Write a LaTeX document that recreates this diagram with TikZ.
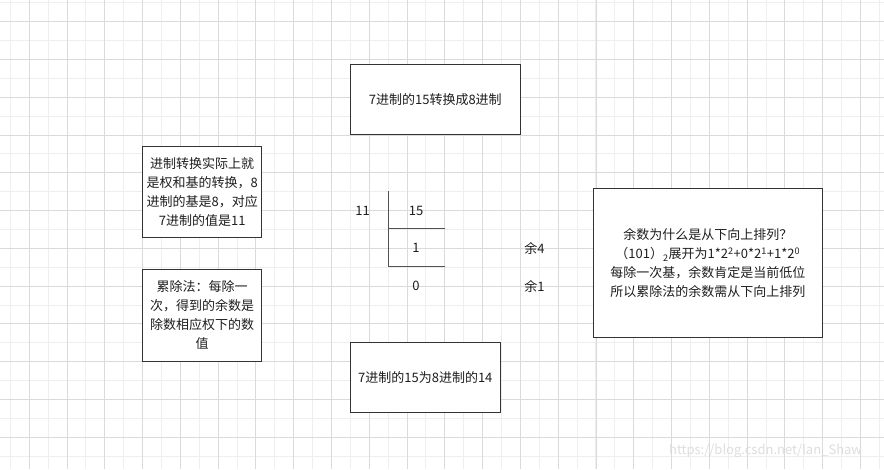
\documentclass[tikz,border=0pt]{standalone}
\usepackage{fontspec}
\setmainfont{Noto Sans CJK SC}
\definecolor{gridminor}{RGB}{238, 238, 238}
\definecolor{gridmajor}{RGB}{218, 218, 218}
\definecolor{boxline}{RGB}{51, 51, 51}
\definecolor{inkdark}{RGB}{30, 30, 30}
\definecolor{markgray}{RGB}{222, 222, 222}

\begin{document}
\begin{tikzpicture}[x=1pt, y=-1pt, every node/.style={font=\fontsize{13}{19}\selectfont, text=inkdark, inner sep=0pt},
    notebox/.style={draw=boxline, line width=1pt, align=center},
    minorline/.style={draw=gridminor, line width=1pt},
    majorline/.style={draw=gridmajor, line width=1pt},
    divline/.style={draw=boxline!85, line width=1pt}]
    \useasboundingbox[fill=white] (0,0) rectangle (884,469);

    \foreach \i in {0,...,46} \draw[minorline] ({10.4+18.89*\i},0) -- ++(0,469);
    \foreach \j in {0,...,24} \draw[minorline] (0,{2.8+18.89*\j}) -- ++(884,0);
    \foreach \i in {0,...,22} \draw[majorline] ({29.3+37.78*\i},0) -- ++(0,469);
    \foreach \j in {0,...,11} \draw[majorline] (0,{21.7+37.78*\j}) -- ++(884,0);

    \node[notebox, fill=white, minimum width=170pt, minimum height=70pt] (task) at (435.3,99.3) {7进制的15转换成8进制};
    \node[notebox, fill=white, minimum width=150pt, minimum height=70pt] (result) at (425.3,377.3) {7进制的15为8进制的14};

    \node[notebox, fill=white, minimum width=119pt, minimum height=91pt] (idea) at (202.2,191.7)
        {进制转换实际上就\\是权和基的转换，8\\进制的基是8，对应\\7进制的值是11};
    \node[notebox, fill=white, minimum width=119pt, minimum height=92pt] (method) at (202.2,315.3)
        {累除法：每除一\\次，得到的余数是\\除数相应权下的数\\值};

    \node[notebox, fill=white, minimum width=229pt, minimum height=149pt] (why) at (707.8,263.3)
        {余数为什么是从下向上排列？\\（101）\textsubscript{2}展开为1*2\textsuperscript{2}+0*2\textsuperscript{1}+1*2\textsuperscript{0}\\每除一次基，余数肯定是当前低位\\所以累除法的余数需从下向上排列};

    \coordinate (bartop) at (388.3,191);
    \coordinate (barmid) at (388.3,228.7);
    \coordinate (barbot) at (388.3,266.3);
    \draw[divline] (bartop) -- (barbot) -- ++(56.7,0);
    \draw[divline] (barmid) -- ++(56.7,0);

    \node (base) at (362.7,211) {11};
    \node (dividend) at (416,211) {15};
    \node (quot1) at (416,248) {1};
    \node (quot0) at (416,286) {0};
    \node (rem4) at (534.5,248) {余4};
    \node (rem1) at (534.5,286) {余1};

    \node[text=markgray] (mark) at (765.5,451) {https://blog.csdn.net/lan\_Shaw};
\end{tikzpicture}
\end{document}
